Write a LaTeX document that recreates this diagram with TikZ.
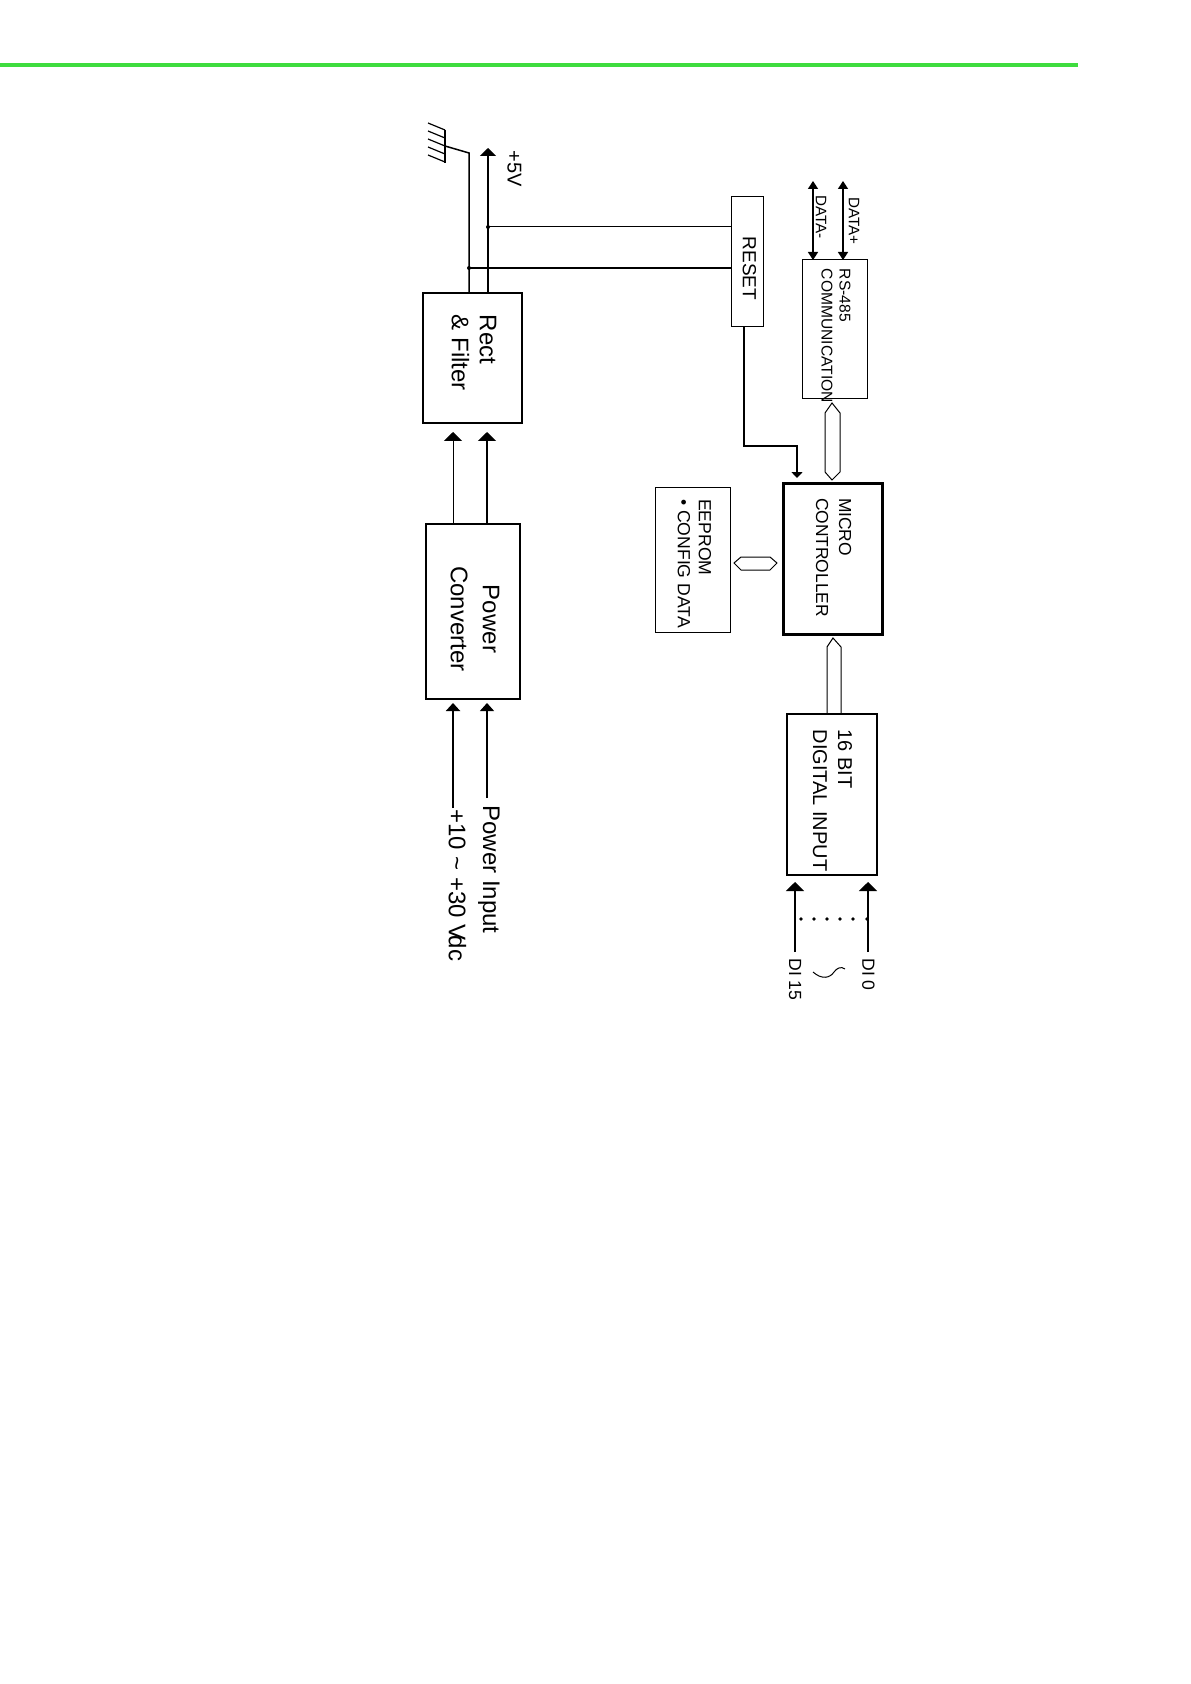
\documentclass[tikz,border=0pt]{standalone}
\usepackage{fontspec}
\setmainfont{Liberation Sans}
\usetikzlibrary{arrows.meta,calc}
\definecolor{rulegreen}{RGB}{62,220,62}
\tikzset{
  blk/.style={draw,line width=0.9pt,inner sep=0pt,outer sep=0pt},
  lbl/.style={rotate=-90,inner sep=0pt,align=left},
  busline/.style={line width=0.5pt},
  bigtri/.style={-{Triangle[width=9pt,length=4.5pt]}},
  midtri/.style={-{Triangle[width=7pt,length=4pt]}},
  smalltri/.style={-{Triangle[width=5.5pt,length=3pt]}},
  datatri/.style={{Triangle[width=5pt,length=4pt]}-{Triangle[width=5pt,length=4pt]}}
}
\begin{document}
\begin{tikzpicture}[x=0.5pt,y=-0.5pt]
\useasboundingbox (0,0) rectangle (1190,1684);
% page rule
\draw[rulegreen,line width=1.6pt] (0,65) -- (1078,65);
% power blocks
\node[blk,minimum width=49.5pt,minimum height=65pt] (rect) at (472.5,358) {};
\node[blk,minimum width=47pt,minimum height=87.5pt] (conv) at (473,611.5) {};
% logic blocks
\node[blk,line width=0.5pt,minimum width=16pt,minimum height=65pt] (reset) at (747,262) {};
\node[blk,line width=0.5pt,minimum width=32.5pt,minimum height=69.5pt] (rs485) at (834.5,329.5) {};
\node[blk,line width=1.5pt,minimum width=49.5pt,minimum height=75.5pt] (micro) at (832.5,558.5) {};
\node[blk,line width=0.5pt,minimum width=37.5pt,minimum height=72.5pt] (eeprom) at (692.5,559.5) {};
\node[blk,line width=0.6pt,minimum width=45pt,minimum height=80.5pt] (dinput) at (832,794.5) {};
% block texts
\node[lbl,font=\fontsize{12}{14}\selectfont] (recttxt) at (474,353) {Rect\\\& Filter};
\node[lbl,align=center,font=\fontsize{12}{16}\selectfont] (convtxt) at (475,619) {Power\\Converter};
\node[lbl,font=\fontsize{9.5}{11}\selectfont] (resettxt) at (749.5,268.5) {RESET};
\node[lbl,font=\fontsize{7.8}{9}\selectfont] (rstxt) at (836,336) {RS-485\\COMMUNICATION};
\node[lbl,font=\fontsize{8.7}{11.5}\selectfont] (microtxt) at (833.5,557.5) {MICRO\\CONTROLLER};
\node[lbl,font=\fontsize{8.8}{10.5}\selectfont] (eepromtxt) at (694.5,563.5) {EEPROM\\\textbullet\ CONFIG DATA};
\node[lbl,font=\fontsize{10}{12.5}\selectfont] (dintxt) at (832.5,800.5) {16 BIT\\DIGITAL INPUT};
% ground and +5V
\coordinate (gnd) at (469,153);
\coordinate (vcc) at (488,148);
\draw[line width=0.75pt] (gnd |- rect.north) -- (gnd) -- (445,146);
\draw[line width=0.7pt] (445,130) -- (445,163);
\foreach \y in {123,131,139,147,155}{\draw[line width=0.6pt] (428,\y) -- (445,\y+7);}
\draw[line width=0.75pt,-{Triangle[width=8pt,length=4pt]}] (vcc |- rect.north) -- (vcc);
\node[lbl,font=\fontsize{10}{12}\selectfont] (vcctxt) at (514.5,168.5) {+5V};
% taps to reset
\coordinate (tapv) at (488,227);
\coordinate (tapg) at (469,268);
\draw[line width=0.5pt] (tapv) -- (tapv -| reset.west);
\draw[line width=1pt] (tapg) -- (tapg -| reset.west);
\fill (tapv) circle (1pt);
\fill (tapg) circle (1pt);
% reset to micro
\coordinate (rstbend) at (797,446);
\draw[line width=1pt,smalltri,shorten >=2.5pt] ([xshift=-1.5pt]reset.south) |- (rstbend) -- (rstbend |- micro.north);
% RS-485 lines
\coordinate (dplus) at (843,181);
\coordinate (dminus) at (813,181);
\draw[line width=0.75pt,datatri] (dplus) -- (dplus |- rs485.north);
\draw[line width=0.75pt,datatri] (dminus) -- (dminus |- rs485.north);
\node[lbl,font=\fontsize{7.6}{9}\selectfont] (dplustxt) at (854,221) {DATA+};
\node[lbl,font=\fontsize{7.6}{9}\selectfont] (dminustxt) at (821,217) {DATA-};
% bus links
\draw[busline] (rs485.south) ++(-2.5,4) -- ++(8,10) -- ++(0,59) -- ++(-8,8) -- ++(-7,-8) -- ++(0,-59) -- cycle;
\draw[busline] (eeprom.east) ++(4,3.5) -- ++(7,-6) -- ++(29,0) -- ++(7,6) -- ++(-7,7) -- ++(-29,0) -- cycle;
\draw[busline] (dinput.north) ++(-5,0) -- ++(0,-67) -- ++(6,-9) -- ++(8,9) -- ++(0,67);
% power path
\coordinate (vin) at (453,808);
\coordinate (pin) at (487,798);
\draw[line width=0.5pt,bigtri,shorten >=4.5pt] (vin |- conv.north) -- (vin |- rect.south);
\draw[line width=1pt,bigtri,shorten >=4.5pt] (pin |- conv.north) -- (pin |- rect.south);
\draw[line width=1pt,midtri,shorten >=2pt] (vin) -- (vin |- conv.south);
\draw[line width=0.6pt,midtri,shorten >=2pt] (pin) -- (pin |- conv.south);
\node[lbl,anchor=west,font=\fontsize{12}{14}\selectfont] (pintxt) at (489,805) {Power Input};
\node[lbl,anchor=west,font=\fontsize{12}{14}\selectfont] (vintxt) at (457.5,809) {+10 \textasciitilde{} +30 V\kern-2.5pt dc};
% digital inputs
\coordinate (di0) at (868,952);
\coordinate (di15) at (795,952);
\draw[line width=0.75pt,bigtri,shorten >=3.5pt] (di0) -- (di0 |- dinput.south);
\draw[line width=0.75pt,bigtri,shorten >=3.5pt] (di15) -- (di15 |- dinput.south);
\foreach \x in {801,814,827,840,853,867}{\fill (\x,919) circle (0.9pt);}
\node[lbl,anchor=west,font=\fontsize{8.8}{10}\selectfont] (di0txt) at (868.5,958) {DI 0};
\node[lbl,anchor=west,font=\fontsize{8.8}{10}\selectfont] (di15txt) at (795,958) {DI 15};
\draw[line width=0.5pt] (813,972) .. controls (822,980) and (830,978) .. (834,972) .. controls (837,968) and (841,966) .. (845,969);
\end{tikzpicture}
\end{document}
